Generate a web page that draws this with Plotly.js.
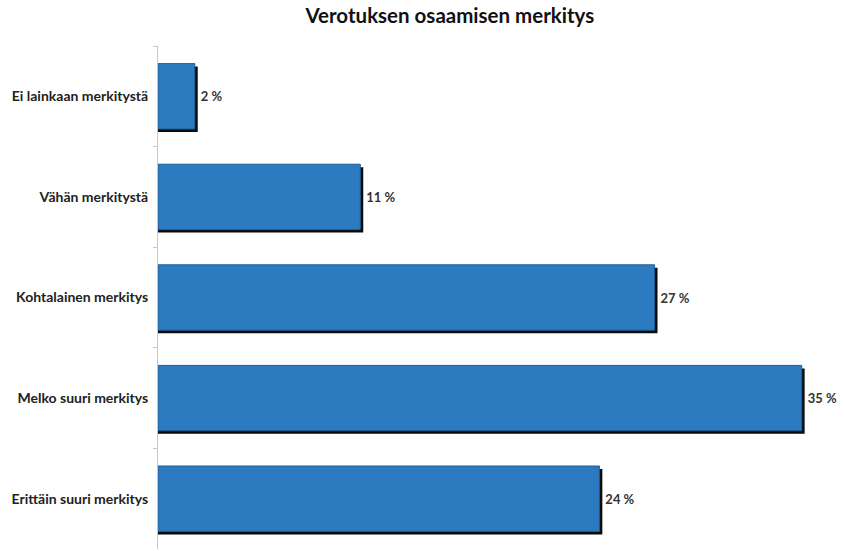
<!DOCTYPE html>
<html>
<head>
<meta charset="utf-8">
<script src="https://cdn.plot.ly/plotly-3.0.1.min.js"></script>
<style>html,body{margin:0;padding:0;background:#fff;}#chart{width:844px;height:551px;}</style>
</head>
<body>
<div id="chart"></div>
<script>
const categories = ["Ei lainkaan merkitystä", "Vähän merkitystä", "Kohtalainen merkitys", "Melko suuri merkitys", "Erittäin suuri merkitys"];
const values = [2, 11, 27, 35, 24];
const valueLabels = ["2 %", "11 %", "27 %", "35 %", "24 %"];
const chartTitle = "Verotuksen osaamisen merkitys";

const barWidth = 0.65;
const shadowX = 0.16;   // horizontal shadow offset (data units)
const shadowY = 0.03;   // vertical shadow offset (category units)
const FONT = "Lato, 'Open Sans', sans-serif";

const shadow = {
  type: "bar", orientation: "h",
  y: categories,
  x: values.map(v => v + shadowX),
  width: barWidth,
  offset: -barWidth / 2 + shadowY,
  marker: { color: "#0a0a0a", line: { width: 0 } },
  hoverinfo: "skip", showlegend: false
};
const bars = {
  type: "bar", orientation: "h",
  y: categories,
  x: values,
  width: barWidth,
  offset: -barWidth / 2,
  marker: { color: "#2c7abf", line: { color: "#1f5f99", width: 1 } },
  showlegend: false
};
const labels = {
  type: "bar", orientation: "h",
  y: categories,
  x: values.map(v => v + shadowX),
  width: barWidth,
  offset: -barWidth / 2,
  marker: { color: "rgba(0,0,0,0)", line: { width: 0 } },
  text: valueLabels,
  textposition: "outside",
  cliponaxis: false,
  textfont: { family: FONT, size: 13, color: "#333", weight: "bold" },
  hoverinfo: "skip", showlegend: false
};

Plotly.newPlot("chart", [shadow, bars, labels], {
  width: 844, height: 551,
  margin: { l: 158, r: 0, t: 46, b: 2 },
  paper_bgcolor: "#fff", plot_bgcolor: "#fff",
  barmode: "overlay",
  title: { text: chartTitle, x: 0.533, xanchor: "center", y: 0.971, yanchor: "middle",
           font: { family: FONT, size: 20.5, color: "#111", weight: "bold" } },
  xaxis: { range: [0, 37.3], visible: false, showgrid: false, zeroline: false },
  yaxis: { autorange: "reversed", type: "category", showline: true, linecolor: "#c8c8c8", linewidth: 1,
           ticks: "outside", tickson: "boundaries", ticklen: 4, tickcolor: "#c8c8c8",
           showgrid: false, zeroline: false, ticklabelstandoff: 6,
           tickfont: { family: FONT, size: 14, color: "#222", weight: "bold" } }
}, { displayModeBar: false, staticPlot: true });
</script>
</body>
</html>
